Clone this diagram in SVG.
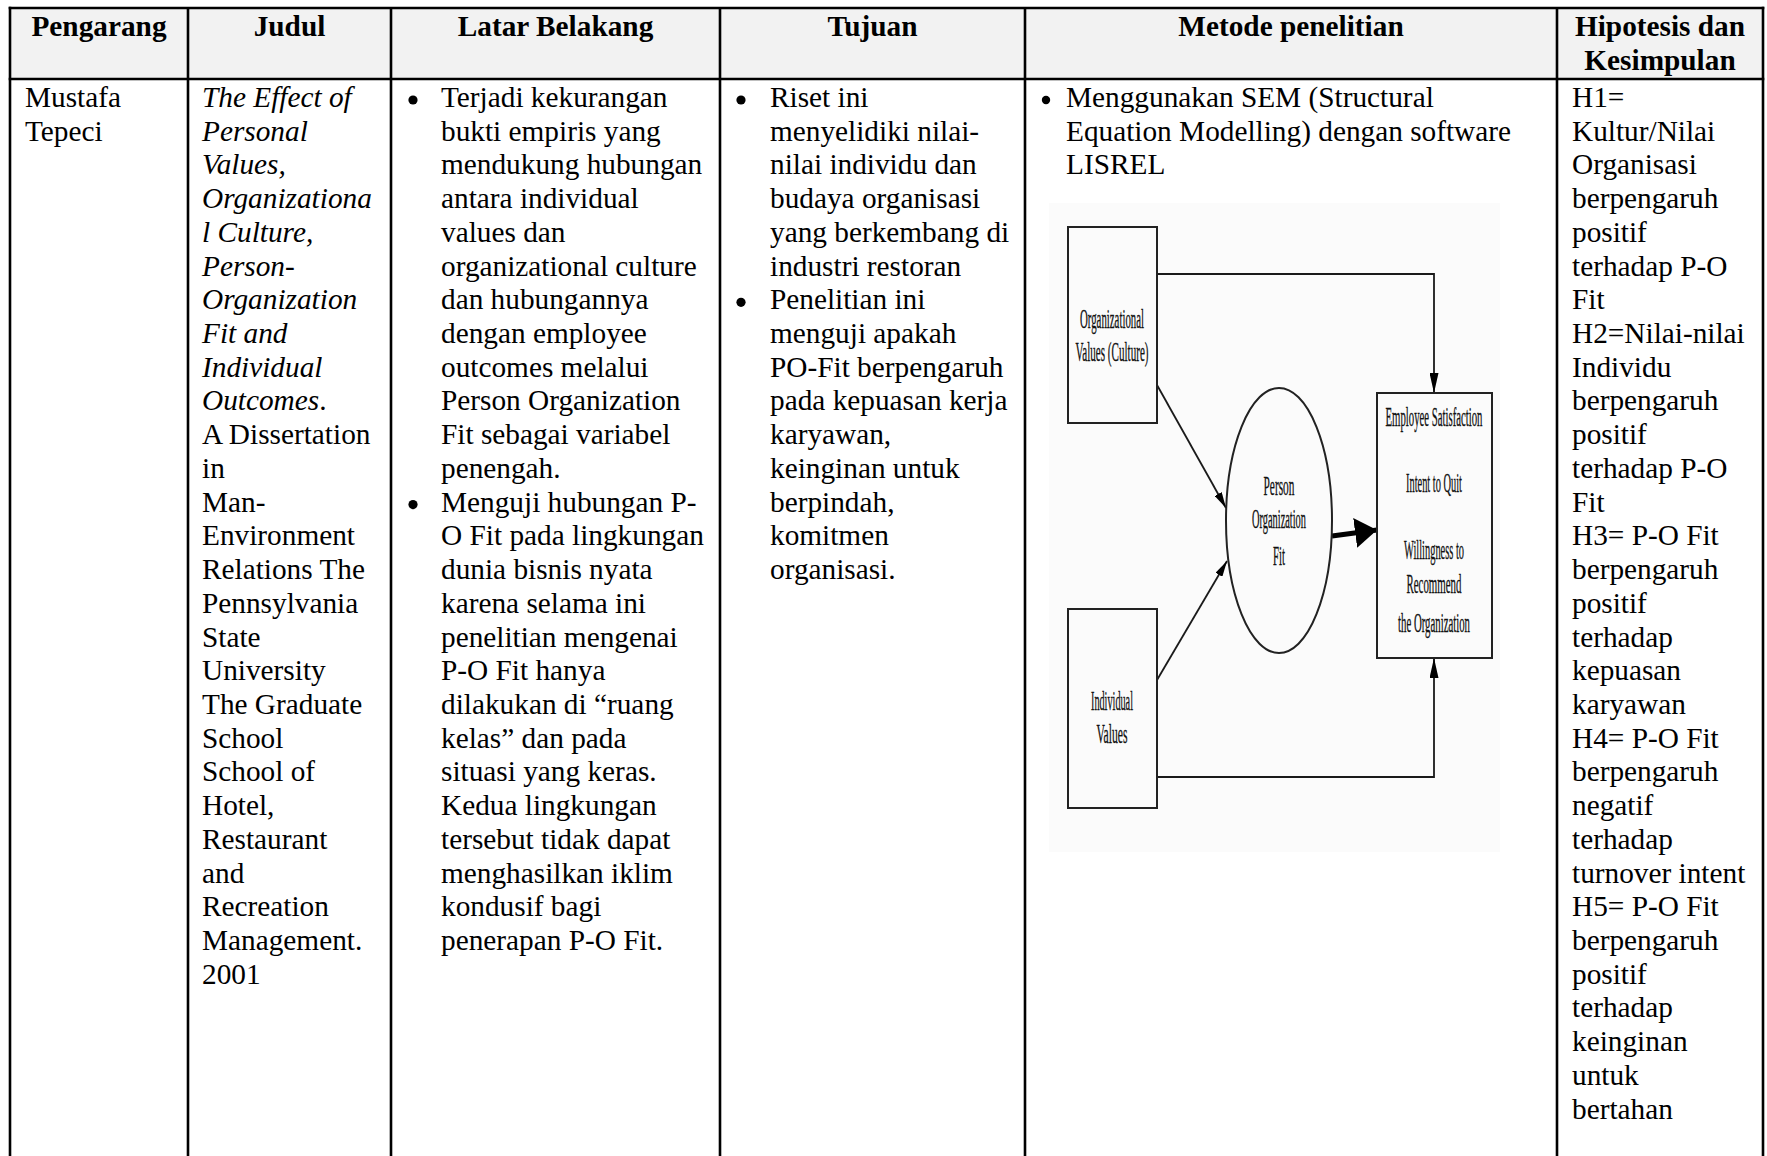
<svg xmlns="http://www.w3.org/2000/svg" width="1767" height="1156" viewBox="0 0 1767 1156">
  <style>
    .t { font-family: "Liberation Serif", "Times New Roman", serif; font-size: 29.3px; fill: #000; }
    .h { font-weight: bold; text-anchor: middle; }
    .i { font-style: italic; }
    .dot { fill: #000; }
    .grid { stroke: #000; stroke-width: 2.6; fill: none; }
    .d { font-family: "Liberation Serif", "Times New Roman", serif; font-size: 28px; fill: #111; stroke: #111; stroke-width: 0.35; text-anchor: middle; }
    .box { fill: none; stroke: #222; stroke-width: 2; }
    .ln { fill: none; stroke: #1a1a1a; stroke-width: 1.8; }
    .thick { fill: none; stroke: #000; stroke-width: 5; }
  </style>
  <defs>
    <marker id="arr" viewBox="0 0 20 9" refX="20" refY="4.5" markerWidth="20" markerHeight="9" markerUnits="userSpaceOnUse" orient="auto">
      <path d="M0,0 L20,4.5 L0,9 Z" fill="#000"/>
    </marker>
    <marker id="arrSmall" viewBox="0 0 16 8" refX="16" refY="4" markerWidth="16" markerHeight="8" markerUnits="userSpaceOnUse" orient="auto">
      <path d="M0,0 L16,4 L0,8 Z" fill="#000"/>
    </marker>
    <marker id="arrBig" viewBox="0 0 22 30" refX="22" refY="15" markerWidth="22" markerHeight="30" markerUnits="userSpaceOnUse" orient="auto">
      <path d="M0,0 L22,15 L0,30 Z" fill="#000"/>
    </marker>
  </defs>

  <rect width="1767" height="1156" fill="#fff"/>

  <!-- header row background -->
  <rect x="10" y="8" width="1753" height="71" fill="#f2f2f2"/>

  <!-- table rules -->
  <g id="table-grid" class="grid">
    <line x1="8.7" y1="8" x2="1764.3" y2="8"/>
    <line x1="8.7" y1="79" x2="1764.3" y2="79"/>
    <line x1="10" y1="6.7" x2="10" y2="1156"/>
    <line x1="188" y1="8" x2="188" y2="1156"/>
    <line x1="391" y1="8" x2="391" y2="1156"/>
    <line x1="720" y1="8" x2="720" y2="1156"/>
    <line x1="1025" y1="8" x2="1025" y2="1156"/>
    <line x1="1557" y1="8" x2="1557" y2="1156"/>
    <line x1="1763" y1="6.7" x2="1763" y2="1156"/>
  </g>

  <!-- header labels -->
  <g id="header">
    <text class="t h" x="99" y="36">Pengarang</text>
    <text class="t h" x="289.5" y="36">Judul</text>
    <text class="t h" x="555.5" y="36">Latar Belakang</text>
    <text class="t h" x="872.5" y="36">Tujuan</text>
    <text class="t h" x="1291" y="36">Metode penelitian</text>
    <text class="t h" x="1660" y="36">Hipotesis dan</text>
    <text class="t h" x="1660" y="69.7">Kesimpulan</text>
  </g>

  <!-- Pengarang -->
  <g id="cell-pengarang">
    <text class="t" x="25" y="107">Mustafa<tspan x="25" dy="33.72">Tepeci</tspan></text>
  </g>

  <!-- Judul -->
  <g id="cell-judul">
    <text class="t" x="202" y="107"><tspan class="i">The Effect of</tspan><tspan class="i" x="202" dy="33.72">Personal</tspan><tspan class="i" x="202" dy="33.72">Values,</tspan><tspan class="i" x="202" dy="33.72">Organizationa</tspan><tspan class="i" x="202" dy="33.72">l Culture,</tspan><tspan class="i" x="202" dy="33.72">Person-</tspan><tspan class="i" x="202" dy="33.72">Organization</tspan><tspan class="i" x="202" dy="33.72">Fit and</tspan><tspan class="i" x="202" dy="33.72">Individual</tspan><tspan class="i" x="202" dy="33.72">Outcomes</tspan>.<tspan x="202" dy="33.72">A Dissertation</tspan><tspan x="202" dy="33.72">in</tspan><tspan x="202" dy="33.72">Man-</tspan><tspan x="202" dy="33.72">Environment</tspan><tspan x="202" dy="33.72">Relations The</tspan><tspan x="202" dy="33.72">Pennsylvania</tspan><tspan x="202" dy="33.72">State</tspan><tspan x="202" dy="33.72">University</tspan><tspan x="202" dy="33.72">The Graduate</tspan><tspan x="202" dy="33.72">School</tspan><tspan x="202" dy="33.72">School of</tspan><tspan x="202" dy="33.72">Hotel,</tspan><tspan x="202" dy="33.72">Restaurant</tspan><tspan x="202" dy="33.72">and</tspan><tspan x="202" dy="33.72">Recreation</tspan><tspan x="202" dy="33.72">Management.</tspan><tspan x="202" dy="33.72">2001</tspan></text>
  </g>

  <!-- Latar Belakang -->
  <g id="cell-latar">
    <circle class="dot" cx="413" cy="100" r="4.6"/>
    <circle class="dot" cx="413" cy="504.6" r="4.6"/>
    <text class="t" x="441" y="107">Terjadi kekurangan<tspan x="441" dy="33.72">bukti empiris yang</tspan><tspan x="441" dy="33.72">mendukung hubungan</tspan><tspan x="441" dy="33.72">antara individual</tspan><tspan x="441" dy="33.72">values dan</tspan><tspan x="441" dy="33.72">organizational culture</tspan><tspan x="441" dy="33.72">dan hubungannya</tspan><tspan x="441" dy="33.72">dengan employee</tspan><tspan x="441" dy="33.72">outcomes melalui</tspan><tspan x="441" dy="33.72">Person Organization</tspan><tspan x="441" dy="33.72">Fit sebagai variabel</tspan><tspan x="441" dy="33.72">penengah.</tspan><tspan x="441" dy="33.72">Menguji hubungan P-</tspan><tspan x="441" dy="33.72">O Fit pada lingkungan</tspan><tspan x="441" dy="33.72">dunia bisnis nyata</tspan><tspan x="441" dy="33.72">karena selama ini</tspan><tspan x="441" dy="33.72">penelitian mengenai</tspan><tspan x="441" dy="33.72">P-O Fit hanya</tspan><tspan x="441" dy="33.72">dilakukan di “ruang</tspan><tspan x="441" dy="33.72">kelas” dan pada</tspan><tspan x="441" dy="33.72">situasi yang keras.</tspan><tspan x="441" dy="33.72">Kedua lingkungan</tspan><tspan x="441" dy="33.72">tersebut tidak dapat</tspan><tspan x="441" dy="33.72">menghasilkan iklim</tspan><tspan x="441" dy="33.72">kondusif bagi</tspan><tspan x="441" dy="33.72">penerapan P-O Fit.</tspan></text>
  </g>

  <!-- Tujuan -->
  <g id="cell-tujuan">
    <circle class="dot" cx="741" cy="100" r="4.6"/>
    <circle class="dot" cx="741" cy="302.3" r="4.6"/>
    <text class="t" x="770" y="107">Riset ini<tspan x="770" dy="33.72">menyelidiki nilai-</tspan><tspan x="770" dy="33.72">nilai individu dan</tspan><tspan x="770" dy="33.72">budaya organisasi</tspan><tspan x="770" dy="33.72">yang berkembang di</tspan><tspan x="770" dy="33.72">industri restoran</tspan><tspan x="770" dy="33.72">Penelitian ini</tspan><tspan x="770" dy="33.72">menguji apakah</tspan><tspan x="770" dy="33.72">PO-Fit berpengaruh</tspan><tspan x="770" dy="33.72">pada kepuasan kerja</tspan><tspan x="770" dy="33.72">karyawan,</tspan><tspan x="770" dy="33.72">keinginan untuk</tspan><tspan x="770" dy="33.72">berpindah,</tspan><tspan x="770" dy="33.72">komitmen</tspan><tspan x="770" dy="33.72">organisasi.</tspan></text>
  </g>

  <!-- Metode penelitian -->
  <g id="cell-metode">
    <circle class="dot" cx="1046" cy="100" r="4.2"/>
    <text class="t" x="1066" y="107">Menggunakan SEM (Structural<tspan x="1066" dy="33.72">Equation Modelling) dengan software</tspan><tspan x="1066" dy="33.72">LISREL</tspan></text>
  </g>

  <!-- Hipotesis dan Kesimpulan -->
  <g id="cell-hipotesis">
    <text class="t" x="1572" y="107">H1=<tspan x="1572" dy="33.72">Kultur/Nilai</tspan><tspan x="1572" dy="33.72">Organisasi</tspan><tspan x="1572" dy="33.72">berpengaruh</tspan><tspan x="1572" dy="33.72">positif</tspan><tspan x="1572" dy="33.72">terhadap P-O</tspan><tspan x="1572" dy="33.72">Fit</tspan><tspan x="1572" dy="33.72">H2=Nilai-nilai</tspan><tspan x="1572" dy="33.72">Individu</tspan><tspan x="1572" dy="33.72">berpengaruh</tspan><tspan x="1572" dy="33.72">positif</tspan><tspan x="1572" dy="33.72">terhadap P-O</tspan><tspan x="1572" dy="33.72">Fit</tspan><tspan x="1572" dy="33.72">H3= P-O Fit</tspan><tspan x="1572" dy="33.72">berpengaruh</tspan><tspan x="1572" dy="33.72">positif</tspan><tspan x="1572" dy="33.72">terhadap</tspan><tspan x="1572" dy="33.72">kepuasan</tspan><tspan x="1572" dy="33.72">karyawan</tspan><tspan x="1572" dy="33.72">H4= P-O Fit</tspan><tspan x="1572" dy="33.72">berpengaruh</tspan><tspan x="1572" dy="33.72">negatif</tspan><tspan x="1572" dy="33.72">terhadap</tspan><tspan x="1572" dy="33.72">turnover intent</tspan><tspan x="1572" dy="33.72">H5= P-O Fit</tspan><tspan x="1572" dy="33.72">berpengaruh</tspan><tspan x="1572" dy="33.72">positif</tspan><tspan x="1572" dy="33.72">terhadap</tspan><tspan x="1572" dy="33.72">keinginan</tspan><tspan x="1572" dy="33.72">untuk</tspan><tspan x="1572" dy="33.72">bertahan</tspan></text>
  </g>

  <!-- SEM model figure -->
  <rect x="1049" y="203" width="451" height="649" fill="#fbfbfb"/>

  <g id="connectors">
    <path class="ln" d="M1157,274 H1434 V393" marker-end="url(#arr)"/>
    <path class="ln" d="M1157,777 H1434 V658" marker-end="url(#arr)"/>
    <path class="ln" d="M1157,385 L1226,508" marker-end="url(#arrSmall)"/>
    <path class="ln" d="M1157,680 L1227,561" marker-end="url(#arrSmall)"/>
    <path class="thick" d="M1332,536 L1377,530" marker-end="url(#arrBig)"/>
  </g>

  <g id="node-org-values">
    <rect class="box" x="1068" y="227" width="89" height="196"/>
    <text class="d" x="1112" y="328" textLength="64" lengthAdjust="spacingAndGlyphs">Organizational</text>
    <text class="d" x="1112" y="361" textLength="73" lengthAdjust="spacingAndGlyphs">Values (Culture)</text>
  </g>

  <g id="node-individual-values">
    <rect class="box" x="1068" y="609" width="89" height="199"/>
    <text class="d" x="1112" y="710" textLength="42" lengthAdjust="spacingAndGlyphs">Individual</text>
    <text class="d" x="1112" y="743" textLength="31" lengthAdjust="spacingAndGlyphs">Values</text>
  </g>

  <g id="node-po-fit">
    <ellipse class="box" cx="1279" cy="520.5" rx="53" ry="132.5"/>
    <text class="d" x="1279" y="495" textLength="31" lengthAdjust="spacingAndGlyphs">Person</text>
    <text class="d" x="1279" y="528" textLength="54" lengthAdjust="spacingAndGlyphs">Organization</text>
    <text class="d" x="1279" y="565" textLength="12" lengthAdjust="spacingAndGlyphs">Fit</text>
  </g>

  <g id="node-outcomes">
    <rect class="box" x="1377" y="393" width="115" height="265"/>
    <text class="d" x="1434" y="426" textLength="97" lengthAdjust="spacingAndGlyphs">Employee Satisfaction</text>
    <text class="d" x="1434" y="492" textLength="56" lengthAdjust="spacingAndGlyphs">Intent to Quit</text>
    <text class="d" x="1434" y="559" textLength="60" lengthAdjust="spacingAndGlyphs">Willingness to</text>
    <text class="d" x="1434" y="593" textLength="55" lengthAdjust="spacingAndGlyphs">Recommend</text>
    <text class="d" x="1434" y="632" textLength="72" lengthAdjust="spacingAndGlyphs">the Organization</text>
  </g>
</svg>
